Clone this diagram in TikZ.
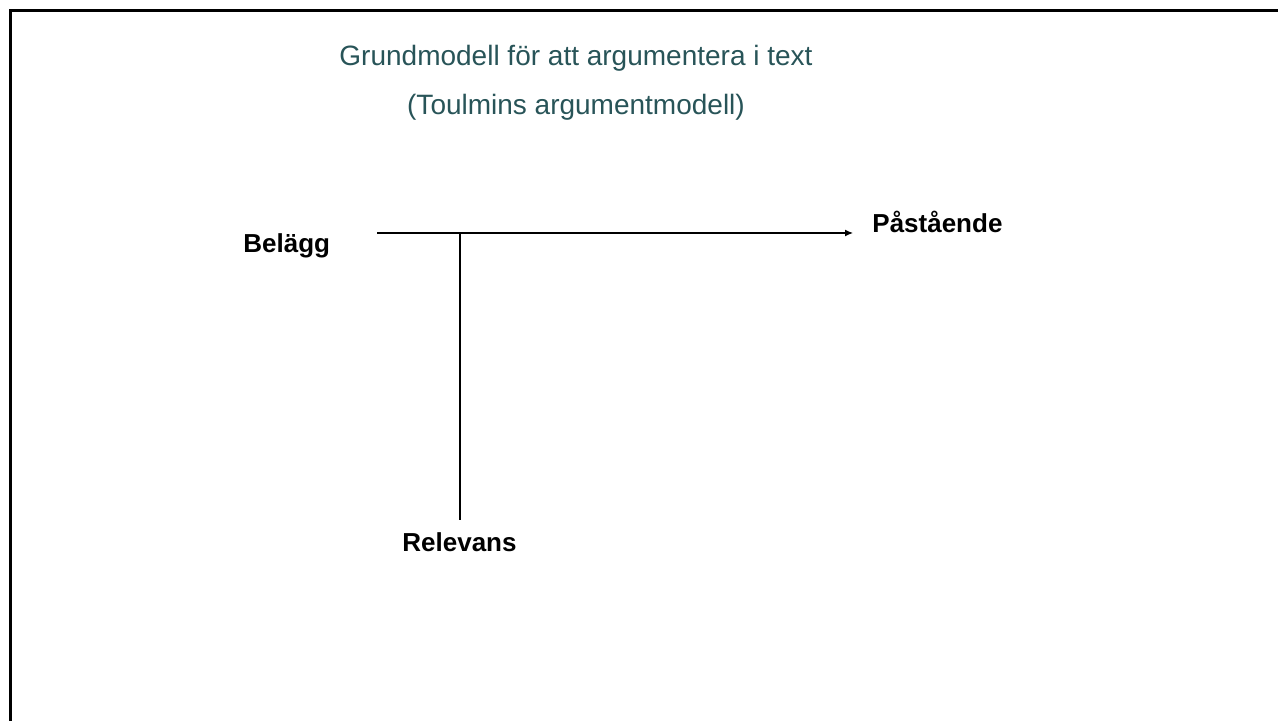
\documentclass[tikz,border=0pt]{standalone}
\usepackage{fontspec}
\setmainfont{Liberation Sans}
\usepackage{xcolor}
\usetikzlibrary{arrows.meta}
\definecolor{titleteal}{RGB}{40,84,88}
\tikzset{
  label/.style={inner sep=0pt, anchor=base west, font=\fontsize{13}{15}\selectfont\bfseries},
  heading/.style={inner sep=0pt, anchor=base, text=titleteal, font=\fontsize{14}{17}\selectfont},
}

\begin{document}
\begin{tikzpicture}[x=0.5pt, y=-0.5pt]

    \useasboundingbox (0, 0) rectangle (1278, 721);
    \draw [line width=1.5pt] (10.5, 721) -- (10.5, 10.5) -- (1278, 10.5);

    \node[heading] (t1) at (576, 66) {Grundmodell för att argumentera i text};
    \node[heading] (t2) at (576, 115) {(Toulmins argumentmodell)};

    \node[label] (belagg) at (243, 253) {Belägg};
    \node[label] (pastaende) at (872, 233) {Påstående};
    \node[label] (relevans) at (402, 551) {Relevans};

    \coordinate (start) at (377, 233);
    \coordinate (tee) at (460, 233);
    \coordinate (foot) at (460, 520);
    \coordinate (tip) at (853, 233);

    \draw [line width=0.6pt, -{Latex[length=4pt,width=3.5pt]}] (start) to (tip);
    \draw [line width=0.6pt] (tee) to (foot);

  \end{tikzpicture}
\end{document}
